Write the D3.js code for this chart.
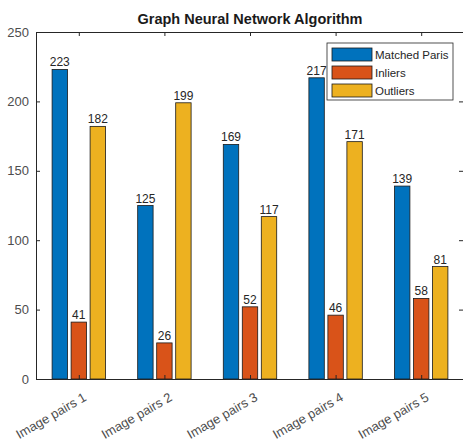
<!DOCTYPE html>
<html>
<head>
<meta charset="utf-8">
<script src="https://cdn.jsdelivr.net/npm/d3@7"></script>
<style>
  body { margin: 0; background: #fff; }
  text { font-family: "Liberation Sans", Arial, sans-serif; }
</style>
</head>
<body>
<div id="chart"></div>
<script>
// Values.
let categories = ["Image pairs 1", "Image pairs 2", "Image pairs 3", "Image pairs 4", "Image pairs 5"];
let seriesNames = ["Matched Paris", "Inliers", "Outliers"];
let matched = [223, 125, 169, 217, 139];
let inliers = [41, 26, 52, 46, 58];
let outliers = [182, 199, 117, 171, 81];
let yTicks = [0, 50, 100, 150, 200, 250];

let colors = ["#0072BD", "#D95319", "#EDB120"];
let series = [matched, inliers, outliers];

// Plot box in page pixels.
let margin = {top: 32, right: 0, bottom: 62, left: 36},
    width = 464 - margin.left,
    height = 441 - margin.top - margin.bottom;

let svg = d3.select("#chart")
            .append("svg")
            .attr("width", 463)
            .attr("height", 441);

let g = svg.append("g")
           .attr("transform", "translate(" + margin.left + "," + margin.top + ")");

// X positions: groups at 1..5, limits 0.5..5.5 like the original.
let x = d3.scaleLinear().domain([0.5, 5.5]).range([0, width]);
let y = d3.scaleLinear().domain([0, 250]).range([height, 0]);

let step = 0.222, barW = 0.18;

// Bars.
series.forEach(function(vals, s) {
    g.append("g")
     .selectAll("rect")
     .data(vals)
     .enter()
     .append("rect")
     .attr("x", function(d, i) { return x(i + 1 + (s - 1) * step - barW / 2); })
     .attr("y", function(d) { return y(d); })
     .attr("width", x(barW) - x(0))
     .attr("height", function(d) { return y(0) - y(d); })
     .attr("fill", colors[s])
     .attr("stroke", "#1a1a1a")
     .attr("stroke-width", 0.8);

    g.append("g")
     .selectAll("text")
     .data(vals)
     .enter()
     .append("text")
     .attr("x", function(d, i) { return x(i + 1 + (s - 1) * step); })
     .attr("y", function(d) { return y(d) - 3; })
     .attr("text-anchor", "middle")
     .style("font-size", "12px")
     .attr("fill", "#262626")
     .text(function(d) { return d; });
});

// Axes box, ticks inward.
let tickVals = d3.range(1, 6);
g.append("g")
 .attr("transform", "translate(0," + height + ")")
 .call(d3.axisBottom(x).tickValues(tickVals).tickSize(-4).tickFormat(""))
 .call(function(a) { a.select(".domain").attr("stroke", "#262626"); a.selectAll("line").attr("stroke", "#262626"); });

g.append("g")
 .call(d3.axisTop(x).tickValues(tickVals).tickSize(-4).tickFormat(""))
 .call(function(a) { a.select(".domain").attr("stroke", "#262626"); a.selectAll("line").attr("stroke", "#262626"); });

g.append("g")
 .call(d3.axisLeft(y).tickValues(yTicks).tickSize(-4).tickPadding(7))
 .call(function(a) {
     a.select(".domain").attr("stroke", "#262626");
     a.selectAll("line").attr("stroke", "#262626");
     a.selectAll("text").style("font-size", "13px").attr("fill", "#4d4d4d")
      .style("font-family", "'Liberation Sans', Arial, sans-serif");
 });

g.append("g")
 .attr("transform", "translate(" + (width - 1) + ",0)")
 .call(d3.axisRight(y).tickValues(yTicks).tickSize(-4).tickFormat(""))
 .call(function(a) { a.select(".domain").attr("stroke", "#262626"); a.selectAll("line").attr("stroke", "#262626"); });

// Rotated category labels.
g.append("g")
 .selectAll("text")
 .data(categories)
 .enter()
 .append("text")
 .attr("transform", function(d, i) { return "translate(" + (x(i + 1) + 4) + "," + (height + 13) + ") rotate(-30)"; })
 .attr("text-anchor", "end")
 .attr("dy", "0.7em")
 .style("font-size", "13px")
 .attr("fill", "#4d4d4d")
 .text(function(d) { return d; });

// Title.
svg.append("text")
   .attr("x", margin.left + width / 2)
   .attr("y", 24)
   .attr("text-anchor", "middle")
   .style("font-size", "14.5px")
   .style("font-weight", "bold")
   .attr("fill", "#1a1a1a")
   .text("Graph Neural Network Algorithm");

// Legend.
let legend = svg.append("g").attr("transform", "translate(327,43)");
legend.append("rect")
      .attr("width", 126)
      .attr("height", 57)
      .attr("fill", "#fff")
      .attr("stroke", "#262626")
      .attr("stroke-width", 0.8);

seriesNames.forEach(function(name, s) {
    legend.append("rect")
          .attr("x", 5)
          .attr("y", 5 + s * 18)
          .attr("width", 40)
          .attr("height", 13)
          .attr("fill", colors[s])
          .attr("stroke", "#1a1a1a")
          .attr("stroke-width", 0.8);
    legend.append("text")
          .attr("x", 48)
          .attr("y", 12 + s * 18)
          .attr("dy", "0.35em")
          .style("font-size", "11.5px")
          .attr("fill", "#262626")
          .text(name);
});
</script>
</body>
</html>
